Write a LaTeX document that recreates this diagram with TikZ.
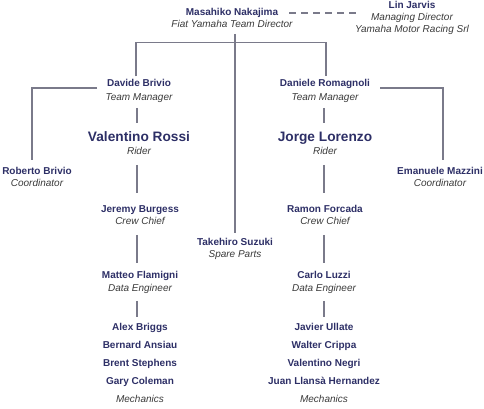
\documentclass[tikz,border=0pt]{standalone}
\usepackage{fontspec}
\setmainfont{Liberation Sans}
\definecolor{navy}{HTML}{2D2F66}
\definecolor{rolec}{HTML}{3A3A3A}
\definecolor{linec}{HTML}{7A7A8A}
\begin{document}
\begin{tikzpicture}[x=1pt,y=-1pt,
  every node/.style={inner sep=0pt,outer sep=0pt},
  nm/.style={font=\fontsize{10}{12}\selectfont\bfseries, text=navy, text height=7.5pt, text depth=2pt},
  big/.style={font=\fontsize{13.7}{16}\selectfont\bfseries, text=navy, text height=10pt, text depth=3pt},
  rl/.style={font=\fontsize{10}{12}\selectfont\itshape, text=rolec, text height=7.5pt, text depth=2pt},
  conn/.style={draw=linec, line width=1.3pt},
  dconn/.style={draw=linec, line width=1.3pt, dash pattern=on 7pt off 5pt}]
\useasboundingbox (0,0) rectangle (484,408);
% top
\node[nm] (nak) at (232,13) {Masahiko Nakajima};
\node[rl] (nakr) at (232,25) {Fiat Yamaha Team Director};
\node[nm] (lin) at (412,6) {Lin Jarvis};
\node[rl] (linr1) at (412,18) {Managing Director};
\node[rl] (linr2) at (412,30) {Yamaha Motor Racing Srl};
% managers
\node[nm] (dav) at (139,84) {Davide Brivio};
\node[rl] (davr) at (139,98) {Team Manager};
\node[nm] (dan) at (325,84) {Daniele Romagnoli};
\node[rl] (danr) at (325,98) {Team Manager};
% riders
\node[big] (ros) at (139,138) {Valentino Rossi};
\node[rl] (rosr) at (139,152) {Rider};
\node[big] (lor) at (325,138) {Jorge Lorenzo};
\node[rl] (lorr) at (325,152) {Rider};
% coordinators
\node[nm] (rob) at (37,172) {Roberto Brivio};
\node[rl] (robr) at (37,184) {Coordinator};
\node[nm] (ema) at (440,172) {Emanuele Mazzini};
\node[rl] (emar) at (440,184) {Coordinator};
% crew chiefs
\node[nm] (jer) at (140,210) {Jeremy Burgess};
\node[rl] (jerr) at (140,222) {Crew Chief};
\node[nm] (ram) at (325,210) {Ramon Forcada};
\node[rl] (ramr) at (325,222) {Crew Chief};
% spare parts
\node[nm] (suz) at (235,243) {Takehiro Suzuki};
\node[rl] (suzr) at (235,255) {Spare Parts};
% data engineers
\node[nm] (mat) at (140,276) {Matteo Flamigni};
\node[rl] (matr) at (140,289) {Data Engineer};
\node[nm] (car) at (324,276) {Carlo Luzzi};
\node[rl] (carr) at (324,289) {Data Engineer};
% mechanics
\node[nm] (m1) at (140,328) {Alex Briggs};
\node[nm] (m2) at (140,346) {Bernard Ansiau};
\node[nm] (m3) at (140,364) {Brent Stephens};
\node[nm] (m4) at (140,382) {Gary Coleman};
\node[rl] (mr) at (140,400) {Mechanics};
\node[nm] (n1) at (324,328) {Javier Ullate};
\node[nm] (n2) at (324,346) {Walter Crippa};
\node[nm] (n3) at (324,364) {Valentino Negri};
\node[nm] (n4) at (324,382) {Juan Llansà Hernandez};
\node[rl] (nr) at (324,400) {Mechanics};
% connectors
\draw[dconn] ([xshift=11pt]nak.east) -- ([xshift=-13pt]linr1.west |- nak.east);
\draw[conn] ([xshift=-3pt,yshift=3pt]dav.north) -- ++(0,-34) -| ([xshift=1pt,yshift=3pt]dan.north);
\draw[conn] ([yshift=-4pt]nakr.south -| suz.north) -- ([yshift=5pt]suz.north);
\draw[conn] ([xshift=-10pt,yshift=-4pt]dav.west) -| ([xshift=-5pt,yshift=7pt]rob.north);
\draw[conn] ([xshift=10pt,yshift=-4pt]dan.east) -| ([xshift=3pt,yshift=7pt]ema.north);
\draw[conn] ([xshift=-2pt,yshift=-5pt]davr.south) -- ([xshift=-2pt,yshift=8.5pt]ros.north);
\draw[conn] ([xshift=-2pt,yshift=-8pt]rosr.south) -- ([xshift=-3pt,yshift=12pt]jer.north);
\draw[conn] ([xshift=-3pt,yshift=-8pt]jerr.south) -- ([xshift=-3pt,yshift=8pt]mat.north);
\draw[conn] ([xshift=-3pt,yshift=-7pt]matr.south) -- ([xshift=-3pt,yshift=6pt]m1.north);
\draw[conn] ([xshift=-1pt,yshift=-5pt]danr.south) -- ([xshift=-1pt,yshift=8.5pt]lor.north);
\draw[conn] ([xshift=-1pt,yshift=-8pt]lorr.south) -- ([xshift=-1pt,yshift=12pt]ram.north);
\draw[conn] ([xshift=-1pt,yshift=-8pt]ramr.south) -- ([yshift=8pt]car.north);
\draw[conn] ([yshift=-7pt]carr.south) -- ([yshift=6pt]n1.north);
\end{tikzpicture}
\end{document}
